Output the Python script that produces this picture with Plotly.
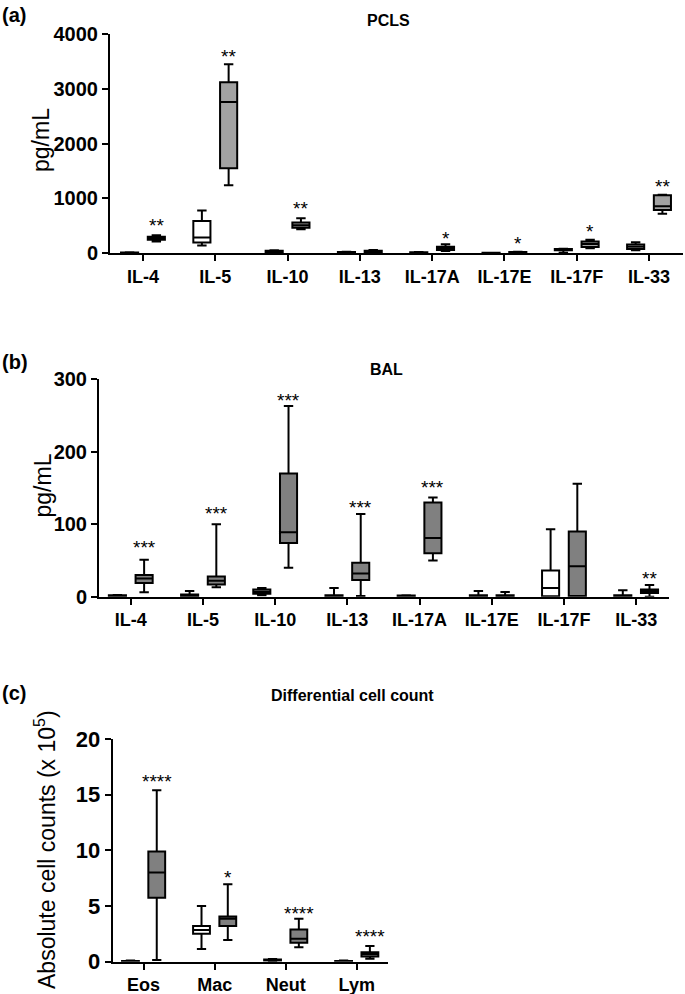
import plotly.graph_objects as go

W, H = 685, 994

cyto = ["IL-4", "IL-5", "IL-10", "IL-13", "IL-17A", "IL-17E", "IL-17F", "IL-33"]
cells = ["Eos", "Mac", "Neut", "Lym"]

# Panel (a) PCLS, pg/mL
a_ctrl_low = [2, 140, 10, 5, 5, 2, 10, 55]
a_ctrl_q1 = [5, 195, 20, 10, 10, 4, 55, 80]
a_ctrl_med = [10, 290, 35, 15, 15, 6, 65, 120]
a_ctrl_q3 = [15, 590, 45, 25, 20, 8, 80, 160]
a_ctrl_high = [20, 780, 55, 30, 25, 10, 85, 200]
a_trt_low = [215, 1240, 440, 10, 40, 10, 90, 720]
a_trt_q1 = [245, 1550, 465, 25, 60, 15, 115, 790]
a_trt_med = [270, 2760, 510, 35, 85, 20, 170, 860]
a_trt_q3 = [300, 3120, 560, 45, 120, 25, 215, 1060]
a_trt_high = [330, 3450, 640, 60, 165, 30, 245, 1070]
a_stars = ["**", "**", "**", "", "*", "*", "*", "**"]
a_star_y = [582, 3667, 889, 0, 337, 245, 466, 1294]

# Panel (b) BAL, pg/mL
b_ctrl_low = [0.5, 0, 2, 0, 0.3, 0, 0, 0]
b_ctrl_q1 = [1, 0.5, 4, 0.5, 0.5, 0.5, 0.5, 0.5]
b_ctrl_med = [1.5, 1.5, 7, 1, 1, 1, 12, 1]
b_ctrl_q3 = [2, 3, 10, 2, 1.5, 2, 36, 2]
b_ctrl_high = [2.5, 8, 12, 12, 2, 8, 93, 9]
b_trt_low = [6, 13, 40, 1, 50, 0, 0, 0]
b_trt_q1 = [19, 17, 74, 23, 60, 0.5, 1, 5]
b_trt_med = [25, 22, 89, 32, 81, 1, 42, 8]
b_trt_q3 = [30, 28, 170, 47, 130, 2, 90, 10]
b_trt_high = [51, 100, 263, 114, 137, 6.5, 156, 16]
b_stars = ["***", "***", "***", "***", "***", "", "", "**"]
b_star_y = [72.8, 119.7, 276, 129, 156.6, 0, 0, 31.3]

# Panel (c) differential cell count, x 10^5
c_ctrl_low = [0.01, 1.15, 0.05, 0.01]
c_ctrl_q1 = [0.03, 2.5, 0.1, 0.03]
c_ctrl_med = [0.05, 2.85, 0.15, 0.05]
c_ctrl_q3 = [0.07, 3.2, 0.2, 0.07]
c_ctrl_high = [0.1, 5.0, 0.25, 0.1]
c_trt_low = [0.15, 1.95, 1.3, 0.27]
c_trt_q1 = [5.75, 3.2, 1.7, 0.47]
c_trt_med = [8.0, 3.85, 2.05, 0.7]
c_trt_q3 = [9.9, 4.05, 2.9, 0.85]
c_trt_high = [15.4, 6.95, 3.85, 1.4]
c_stars = ["****", "*", "****", "****"]
c_star_y = [16.56, 7.94, 4.7, 2.6]

FONT = "Liberation Sans, Arial, sans-serif"
BOXGAP = 0.26
GROUPGAP = 0.36
OFF = (1 - BOXGAP) / 4.0

fig = go.Figure()


def add_boxes(cats, low, q1, med, q3, high, fill, xa, ya, og):
    fig.add_trace(go.Box(
        x=cats, lowerfence=low, q1=q1, median=med, q3=q3, upperfence=high,
        fillcolor=fill, line=dict(color="black", width=2),
        whiskerwidth=0.55, boxpoints=False, offsetgroup=og,
        xaxis=xa, yaxis=ya, hoverinfo="skip", showlegend=False))


add_boxes(cyto, a_ctrl_low, a_ctrl_q1, a_ctrl_med, a_ctrl_q3, a_ctrl_high, "white", "x", "y", "c")
add_boxes(cyto, a_trt_low, a_trt_q1, a_trt_med, a_trt_q3, a_trt_high, "#a2a2a2", "x", "y", "t")
add_boxes(cyto, b_ctrl_low, b_ctrl_q1, b_ctrl_med, b_ctrl_q3, b_ctrl_high, "white", "x2", "y2", "c")
add_boxes(cyto, b_trt_low, b_trt_q1, b_trt_med, b_trt_q3, b_trt_high, "#808080", "x2", "y2", "t")
add_boxes(cells, c_ctrl_low, c_ctrl_q1, c_ctrl_med, c_ctrl_q3, c_ctrl_high, "white", "x3", "y3", "c")
add_boxes(cells, c_trt_low, c_trt_q1, c_trt_med, c_trt_q3, c_trt_high, "#808080", "x3", "y3", "t")


def px_x(p):
    return p / W


def px_y(p):
    return 1 - p / H


axis_common = dict(showline=True, linewidth=2, linecolor="black", ticks="outside",
                   ticklen=6, tickwidth=2, tickcolor="black", showgrid=False,
                   zeroline=False, fixedrange=True, automargin=False)
xfont = dict(family=FONT, size=18, color="black", weight="bold")

fig.update_layout(
    template="none",
    width=W, height=H, margin=dict(l=0, r=0, t=0, b=0, pad=0), autosize=False,
    paper_bgcolor="white", plot_bgcolor="white", showlegend=False,
    boxmode="group", boxgap=BOXGAP, boxgroupgap=GROUPGAP,
    font=dict(family=FONT, color="black"),
    xaxis=dict(domain=[px_x(110), px_x(683)], anchor="y", type="category",
               range=[-0.456, 7.47], tickfont=xfont, **axis_common),
    yaxis=dict(domain=[px_y(253.3), px_y(34)], anchor="x", range=[0, 4000],
               tickvals=[0, 1000, 2000, 3000, 4000],
               tickfont=dict(family=FONT, size=20, color="black", weight="bold"), **axis_common),
    xaxis2=dict(domain=[px_x(99), px_x(669)], anchor="y2", type="category",
                range=[-0.44, 7.455], tickfont=xfont, **axis_common),
    yaxis2=dict(domain=[px_y(596.7), px_y(379.3)], anchor="x2", range=[0, 300],
                tickvals=[0, 100, 200, 300],
                tickfont=dict(family=FONT, size=20, color="black", weight="bold"), **axis_common),
    xaxis3=dict(domain=[px_x(112.7), px_x(388)], anchor="y3", type="category",
                range=[-0.435, 3.44], tickfont=xfont, **axis_common),
    yaxis3=dict(domain=[px_y(961.7), px_y(739)], anchor="x3", range=[0, 20],
                tickvals=[0, 5, 10, 15, 20],
                tickfont=dict(family=FONT, size=22, color="black", weight="bold"), **axis_common),
)

ann = []


def stars(cats, labels, ys, xr, yr):
    for i, (s, yv) in enumerate(zip(labels, ys)):
        if s:
            ann.append(dict(x=i + OFF, y=yv, xref=xr, yref=yr, text=s, showarrow=False,
                            xanchor="center", yanchor="middle", yshift=-4,
                            font=dict(family=FONT, size=19, color="black")))


stars(cyto, a_stars, a_star_y, "x", "y")
stars(cyto, b_stars, b_star_y, "x2", "y2")
stars(cells, c_stars, c_star_y, "x3", "y3")

bold = dict(family=FONT, color="black", weight="bold")
for txt, y in [("(a)", 15), ("(b)", 362), ("(c)", 693)]:
    ann.append(dict(x=0, y=px_y(y), xref="paper", yref="paper", text=txt, showarrow=False,
                    xanchor="left", yanchor="middle", font=dict(size=20, **bold)))
for txt, x, y in [("PCLS", 388, 20), ("BAL", 386, 369), ("Differential cell count", 352.5, 695)]:
    ann.append(dict(x=px_x(x), y=px_y(y), xref="paper", yref="paper", text=txt, showarrow=False,
                    xanchor="center", yanchor="middle", font=dict(size=16, **bold)))
for txt, x, y in [("pg/mL", 41, 140), ("pg/mL", 42.5, 486),
                  ("Absolute cell counts (x 10<sup>5</sup>)", 45, 850)]:
    ann.append(dict(x=px_x(x), y=px_y(y), xref="paper", yref="paper", text=txt, showarrow=False,
                    textangle=-90, xanchor="center", yanchor="middle",
                    font=dict(family=FONT, size=23, color="black")))

fig.update_layout(annotations=ann)
# remove the default 8px page margin so the figure fills the window exactly
fig.write_html("out.html", config={"displayModeBar": False},
               post_script="document.body.style.margin='0px';")
